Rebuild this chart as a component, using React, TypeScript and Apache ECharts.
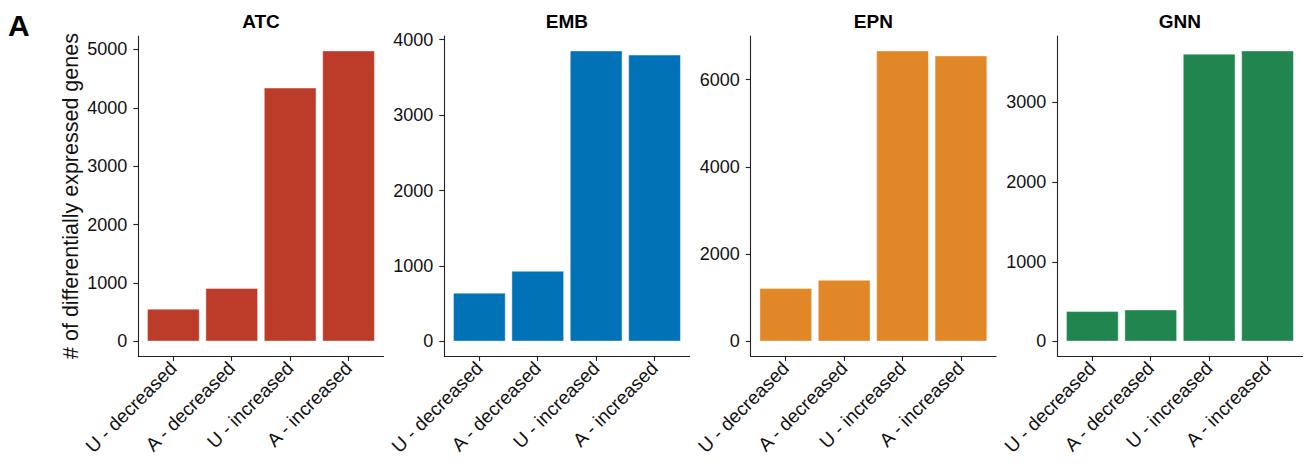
import React, { useEffect, useRef } from "react";
import * as echarts from "echarts";

const categories = ["U - decreased", "A - decreased", "U - increased", "A - increased"];
const panelNames = ["ATC", "EMB", "EPN", "GNN"];
const atcValues = [560, 915, 4345, 4980];
const embValues = [645, 935, 3855, 3800];
const epnValues = [1220, 1410, 6665, 6550];
const gnnValues = [380, 400, 3610, 3650];
const atcTicks = [0, 1000, 2000, 3000, 4000, 5000];
const embTicks = [0, 1000, 2000, 3000, 4000];
const epnTicks = [0, 2000, 4000, 6000];
const gnnTicks = [0, 1000, 2000, 3000];
const panelColors = ["#BC3C29", "#0072B5", "#E18727", "#20854E"];
const yTitle = "# of differentially expressed genes";
const panelTag = "A";

const FONT = "'Liberation Sans', Arial, Helvetica, sans-serif";
const W = 1311;
const H = 468;
const plotLefts = [138.3, 444.3, 750.7, 1057.3];
const plotWidth = 245.3;
const plotTop = 36;
const plotBottom = 356;

export default function App() {
  const ref = useRef<HTMLDivElement>(null);
  useEffect(() => {
    if (!ref.current) return;
    const chart = echarts.init(ref.current, null, { renderer: "svg" });
    const allValues = [atcValues, embValues, epnValues, gnnValues];
    const allTicks = [atcTicks, embTicks, epnTicks, gnnTicks];
    const positions = categories.map((_, k) => k + 1);

    const grid = plotLefts.map((l) => ({
      left: l,
      width: plotWidth,
      top: plotTop,
      height: plotBottom - plotTop,
      containLabel: false,
    }));

    const xAxis = plotLefts.map((_, i) => ({
      type: "value",
      gridIndex: i,
      min: 0.4,
      max: 4.6,
      splitLine: { show: false },
      axisLine: { show: true, onZero: false, lineStyle: { color: "#222", width: 1.1 } },
      axisTick: { show: true, customValues: positions, length: 5, lineStyle: { color: "#222", width: 1.1 } },
      axisLabel: {
        show: true,
        customValues: positions,
        formatter: (v: number) => categories[Math.round(v) - 1] ?? "",
        rotate: 45,
        fontSize: 19,
        color: "#111",
        margin: 9,
        fontFamily: FONT,
      },
    }));

    const yAxis = allValues.map((vals, i) => {
      const m = Math.max(0, ...vals);
      return {
        type: "value",
        gridIndex: i,
        min: -0.05 * m,
        max: 1.05 * m,
        splitLine: { show: false },
        axisLine: { show: true, onZero: false, lineStyle: { color: "#222", width: 1.1 } },
        axisTick: { show: true, customValues: allTicks[i], length: 5, lineStyle: { color: "#222", width: 1.1 } },
        axisLabel: {
          show: true,
          customValues: allTicks[i],
          formatter: (v: number) => String(Math.round(v)),
          fontSize: 18,
          color: "#111",
          margin: 11,
          fontFamily: FONT,
        },
        name: i === 0 ? yTitle : "",
        nameLocation: "middle",
        nameGap: 56,
        nameMoveOverlap: false,
        nameTextStyle: { fontSize: 21.5, color: "#111", fontFamily: FONT },
      };
    });

    const series = allValues.map((vals, i) => ({
      type: "bar",
      xAxisIndex: i,
      yAxisIndex: i,
      barWidth: "90%",
      data: vals.map((v, k) => [positions[k], v]),
      itemStyle: { color: panelColors[i], borderColor: "rgba(255,255,255,0.55)", borderWidth: 0.8 },
    }));

    const graphic: any[] = panelNames.map((name, i) => ({
      type: "text",
      x: plotLefts[i] + plotWidth / 2,
      y: 21,
      style: {
        text: name,
        align: "center",
        verticalAlign: "middle",
        fontSize: 19,
        fontWeight: "bold",
        fill: "#000",
        fontFamily: FONT,
      },
    }));
    graphic.push({
      type: "text",
      x: 8,
      y: 25,
      style: {
        text: panelTag,
        align: "left",
        verticalAlign: "middle",
        fontSize: 30,
        fontWeight: "bold",
        fill: "#000",
        fontFamily: FONT,
      },
    });

    chart.setOption({
      animation: false,
      backgroundColor: "#fff",
      textStyle: { fontFamily: FONT },
      grid,
      xAxis,
      yAxis,
      series,
      graphic,
    } as any);
    return () => chart.dispose();
  }, []);
  return (
    <div
      ref={ref}
      style={{ position: "fixed", left: 0, top: 0, width: W, height: H }}
    />
  );
}
